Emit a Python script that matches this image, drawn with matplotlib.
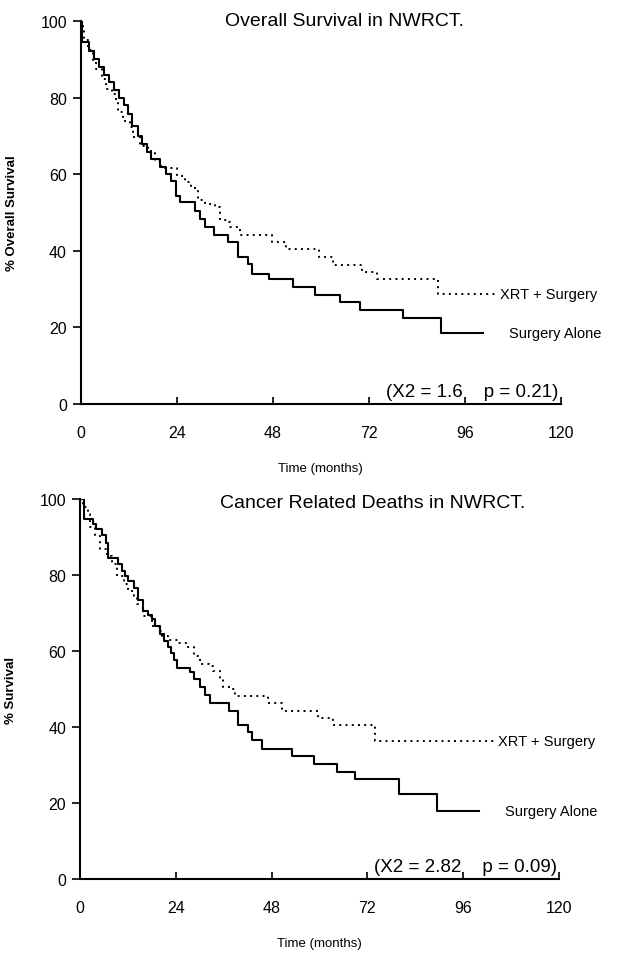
import matplotlib.pyplot as plt

plt.rcParams["font.family"] = ["Liberation Sans", "DejaVu Sans"]

# --- Overall survival (top panel) ---
os_surg_t = [0, 0.3, 2.1, 3.25, 4.6, 5.75, 7.1, 8.25, 9.6, 10.75, 11.8, 12.9, 14.2, 15.4,
             16.6, 17.6, 19.75, 21.25, 22.6, 23.9, 24.75, 28.5, 29.75, 31, 33.25, 36.8,
             39.3, 41.8, 42.9, 47, 53, 58.5, 64.8, 69.7, 80.6, 90, 100.5]
os_surg_s = [100, 94.4, 92.2, 90, 88, 86, 84, 82, 80, 78, 75.7, 72.7, 70, 67.9,
             65.7, 64, 61.8, 60, 58.3, 54.4, 52.6, 50.5, 48.3, 46.1, 44.1, 42.2,
             38.3, 36.6, 34, 32.5, 30.5, 28.5, 26.5, 24.5, 22.5, 18.5, 18.5]

os_xrt_t = [0, 0.5, 0.8, 1.8, 3.1, 3.9, 5.2, 6.4, 7.7, 8.9, 9.3, 10.6, 12.25, 13.1,
            14.75, 16.8, 18.5, 20, 24, 26, 27.5, 29.3, 31, 33.5, 34.75, 36.8, 37.25,
            39.75, 47.7, 51.4, 59.5, 63, 70.25, 74, 89.25, 104]
os_xrt_s = [100, 98, 95, 92.3, 89.6, 87.5, 84.9, 82.2, 80.9, 78.8, 76.2, 74, 72.2, 69.6,
            67.4, 66.1, 63.5, 61.5, 59.5, 58, 56.3, 53.3, 52.2, 51.3, 48.1, 47.6, 46.1,
            44.1, 42.2, 40.5, 38.5, 36.4, 34.5, 32.6, 28.7, 28.7]

# --- Cancer related deaths (bottom panel) ---
cr_surg_t = [0, 1.1, 3.3, 4.1, 5.4, 6.6, 7.1, 9.6, 10.4, 11.3, 12.1, 13.4, 14.6, 15.9,
             17, 18, 18.8, 20.1, 21, 22, 22.8, 23.6, 24.3, 27.6, 28.6, 30.1, 31.3, 32.6,
             37.2, 39.7, 42.2, 43, 45.5, 53, 58.5, 64.3, 69, 80, 89.4, 100]
cr_surg_s = [100, 94.7, 93.5, 92.2, 90.5, 88.4, 84.6, 82.9, 81.1, 79.8, 78.5, 76.5, 73.5, 70.6,
             69.5, 68.4, 66.7, 64.5, 62.5, 61, 59.5, 57.5, 55.5, 54.6, 52.6, 50.4, 48.4, 46.3,
             44.3, 40.4, 38.6, 36.5, 34.3, 32.3, 30.3, 28.2, 26.3, 22.4, 18, 18]

cr_xrt_t = [0, 0.8, 2.1, 2.5, 3.8, 5.0, 6.7, 8, 9.2, 10.9, 12.1, 13.4, 14.2, 15.9, 18,
            19.7, 20.5, 22, 24.5, 26.5, 28.6, 30.1, 32.2, 33.4, 35.1, 35.9, 37.6, 38.8,
            47.2, 50.5, 59.7, 63.5, 73.9, 104]
cr_xrt_s = [100, 98, 96, 92.5, 90.3, 86.8, 85.1, 82.9, 79.8, 77.6, 75.9, 74.6, 72.4, 69.3, 66.7,
            65.3, 64, 63, 62, 61, 58.8, 56.6, 56.1, 54.8, 52.6, 50.4, 50, 48.2,
            46.3, 44.3, 42.4, 40.4, 36.4, 36.4]

x_ticks = [0, 24, 48, 72, 96, 120]
y_ticks = [0, 20, 40, 60, 80, 100]

panels = [
    dict(rect=[0.131, 0.5755, 0.778, 0.4015], title="Overall Survival in NWRCT.", tx=0.55, ty=1.0,
         ylabel="% Overall Survival", stat="(X2 = 1.6    p = 0.21)",
         surg=(os_surg_t, os_surg_s), xrt=(os_xrt_t, os_xrt_s)),
    dict(rect=[0.1297, 0.0776, 0.7763, 0.3983], title="Cancer Related Deaths in NWRCT.", tx=0.61, ty=0.99,
         ylabel="% Survival", stat="(X2 = 2.82    p = 0.09)",
         surg=(cr_surg_t, cr_surg_s), xrt=(cr_xrt_t, cr_xrt_s)),
]

fig = plt.figure(figsize=(6.17, 9.54), dpi=100)

for p in panels:
    ax = fig.add_axes(p["rect"])
    st, ss = p["surg"]
    xt, xs = p["xrt"]
    ax.step(st, ss, where="post", color="black", lw=1.5)
    ax.step(xt, xs, where="post", color="black", lw=1.4, linestyle=(0, (1, 2.2)))

    ax.text(xt[-1] + 0.8, xs[-1], "XRT + Surgery", fontsize=10.5, va="center", ha="left")
    ax.text(st[-1] + 6.5, ss[-1], "Surgery Alone", fontsize=10.5, va="center", ha="left")
    ax.text(119.5, 1.0, p["stat"], fontsize=13.5, ha="right", va="bottom")
    ax.text(p["tx"], p["ty"], p["title"], transform=ax.transAxes, fontsize=14,
            ha="center", va="center")

    ax.set_xlim(0, 120)
    ax.set_ylim(0, 100)
    ax.set_xticks(x_ticks)
    ax.set_yticks(y_ticks)
    ax.tick_params(axis="x", direction="in", length=5, width=1.2, labelsize=11.5, pad=15)
    ax.tick_params(axis="y", direction="out", length=6, width=1.2, labelsize=11.5, pad=4)
    for side in ["top", "right"]:
        ax.spines[side].set_visible(False)
    for side in ["left", "bottom"]:
        ax.spines[side].set_linewidth(1.5)
    ax.set_xlabel("Time (months)", fontsize=9.5, labelpad=16)
    ax.set_ylabel(p["ylabel"], fontsize=9.5, fontweight="bold", labelpad=16)
    for s in ax.spines.values():
        s.set_clip_on(False)

fig.savefig("out.png", dpi=100)
